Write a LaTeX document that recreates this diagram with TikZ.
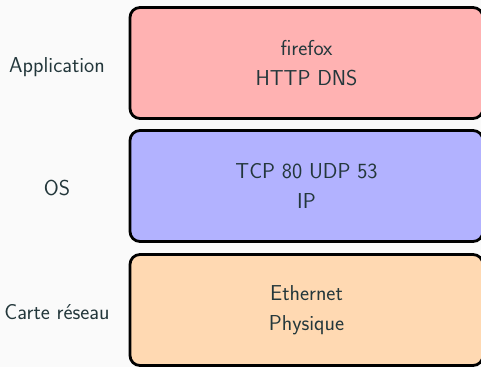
\documentclass[tikz,border=0pt]{standalone}
\definecolor{fg}{HTML}{23373B}
\definecolor{bg}{HTML}{FAFAFA}
\begin{document}
\begin{tikzpicture}[x=1pt,y=-1pt,
  every node/.style={font=\sffamily\fontsize{21.6}{30.5}\selectfont, text=fg},
  layer/.style={draw=black, line width=2.8pt, rounded corners=10pt,
    minimum width=353pt, minimum height=111pt, align=center, inner sep=0pt},
  side/.style={anchor=center}]
\fill[bg] (0,0) rectangle (481,367);
\useasboundingbox (0,0) rectangle (481,367);
\node[layer, fill=red!30] (app) at (306.5,63) {firefox\\HTTP DNS};
\node[layer, fill=blue!30] (os) at (306.5,186) {TCP 80 UDP 53\\IP};
\node[layer, fill=orange!30] (nic) at (306.5,310) {Ethernet\\Physique};
\node[side] (lapp) at (57,67) {Application};
\node[side] (los) at (57,188) {OS};
\node[side] (lnic) at (57,312) {Carte réseau};
\end{tikzpicture}
\end{document}
